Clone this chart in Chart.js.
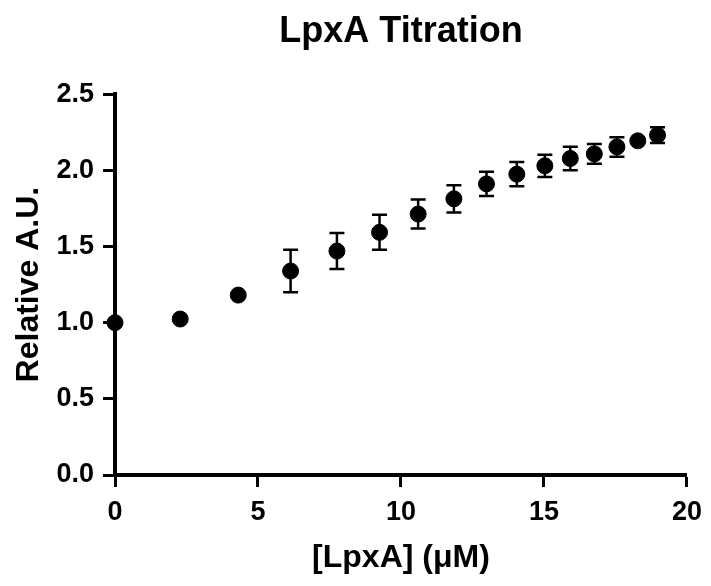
<!DOCTYPE html>
<html>
<head>
<meta charset="utf-8">
<script src="https://cdn.jsdelivr.net/npm/chart.js@4/dist/chart.umd.min.js"></script>
<style>
  html, body { margin: 0; padding: 0; background: #fff; }
  #wrap { width: 711px; height: 586px; position: relative; }
</style>
</head>
<body>
<div id="wrap"><canvas id="titration"></canvas></div>
<script>
// LpxA concentration (uM) and relative signal, mean +/- error
const conc = [0, 2.28, 4.31, 6.14, 7.76, 9.25, 10.6, 11.85, 12.99, 14.05, 15.03, 15.92, 16.76, 17.55, 18.28, 18.97];
const meanAU = [1.0, 1.024, 1.181, 1.339, 1.47, 1.593, 1.713, 1.813, 1.911, 1.975, 2.03, 2.078, 2.108, 2.154, 2.194, 2.231];
const errAU = [0, 0, 0, 0.14, 0.118, 0.115, 0.095, 0.09, 0.08, 0.08, 0.073, 0.077, 0.065, 0.064, 0, 0.052];
const xTicks = [0, 5, 10, 15, 20];
const yTicks = [0, 0.5, 1.0, 1.5, 2.0, 2.5];

Chart.defaults.font.family = "'Liberation Sans', Arial, sans-serif";
Chart.defaults.color = '#000';

// simple error bar drawing, behind the markers
const errorBars = {
  id: 'errorBars',
  beforeDatasetsDraw(chart) {
    const ctx = chart.ctx;
    const xs = chart.scales.x, ys = chart.scales.y;
    ctx.save();
    ctx.strokeStyle = '#000';
    ctx.lineWidth = 2.5;
    conc.forEach((c, i) => {
      if (!errAU[i]) return;
      const px = xs.getPixelForValue(c);
      const top = ys.getPixelForValue(meanAU[i] + errAU[i]);
      const bot = ys.getPixelForValue(meanAU[i] - errAU[i]);
      ctx.beginPath();
      ctx.moveTo(px, top); ctx.lineTo(px, bot);
      ctx.moveTo(px - 7.5, top); ctx.lineTo(px + 7.5, top);
      ctx.moveTo(px - 7.5, bot); ctx.lineTo(px + 7.5, bot);
      ctx.stroke();
    });
    ctx.restore();
  }
};

const points = conc.map((c, i) => ({ x: c, y: meanAU[i] }));

new Chart(document.getElementById('titration'), {
  type: 'scatter',
  data: {
    datasets: [{
      label: 'LpxA',
      data: points,
      backgroundColor: '#000',
      borderColor: '#000',
      pointRadius: 8,
      pointHoverRadius: 8,
      clip: false
    }]
  },
  options: {
    responsive: true,
    maintainAspectRatio: false,
    animation: false,
    layout: { padding: { left: 0, right: 22, top: 0, bottom: 0 } },
    plugins: {
      legend: { display: false },
      tooltip: { enabled: false },
      title: {
        display: true,
        fullSize: false,   // centre over the plot area, not the whole canvas
        text: 'LpxA Titration',
        font: { size: 36, weight: 'bold' },
        padding: { top: 10, bottom: 41 }
      }
    },
    scales: {
      x: {
        type: 'linear',
        min: 0,
        max: 20,
        afterFit: s => { s.height = 111; },
        afterBuildTicks: s => { s.ticks = xTicks.map(v => ({ value: v })); },
        grid: { drawOnChartArea: false, drawTicks: true, tickLength: 12, tickWidth: 3, tickColor: '#000' },
        border: { display: true, width: 4, color: '#000' },
        ticks: { font: { size: 27, weight: 'bold' }, padding: 9, maxRotation: 0 },
        title: {
          display: true,
          text: '[LpxA] (μM)',
          font: { size: 32, weight: 'bold' },
          padding: { top: 0, bottom: 9 }
        }
      },
      y: {
        type: 'linear',
        min: 0,
        max: 2.5,
        afterFit: s => { s.width = 115; },
        afterBuildTicks: s => { s.ticks = yTicks.map(v => ({ value: v })); },
        grid: { drawOnChartArea: false, drawTicks: true, tickLength: 12, tickWidth: 3, tickColor: '#000' },
        border: { display: true, width: 4, color: '#000' },
        ticks: {
          font: { size: 27, weight: 'bold' },
          padding: 9,
          callback: v => Number(v).toFixed(1)
        },
        title: {
          display: true,
          text: 'Relative A.U.',
          font: { size: 32, weight: 'bold' },
          padding: { top: 10, bottom: 0 }
        }
      }
    }
  },
  plugins: [errorBars]
});
</script>
</body>
</html>
